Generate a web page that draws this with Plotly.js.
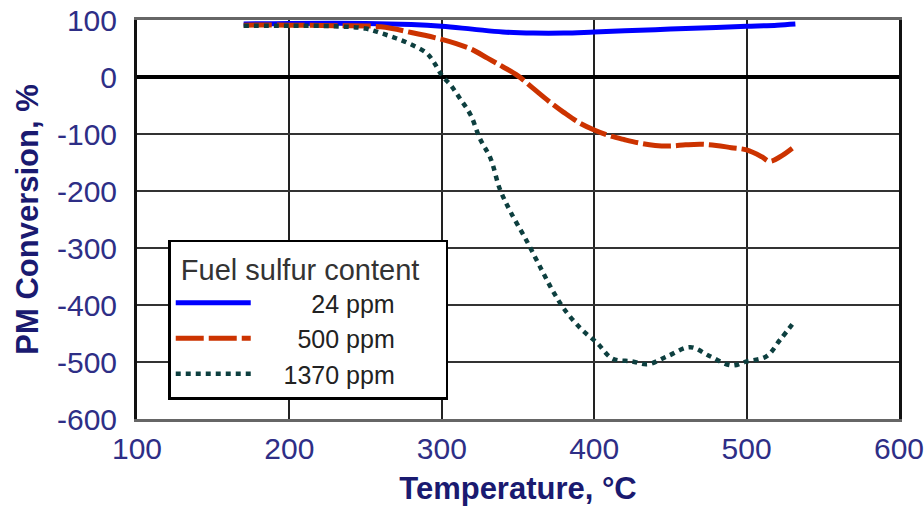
<!DOCTYPE html>
<html>
<head>
<meta charset="utf-8">
<script src="https://cdn.plot.ly/plotly-3.0.1.min.js"></script>
<style>
html,body{margin:0;padding:0;background:#fff;}
#chart{width:924px;height:515px;}
</style>
</head>
<body>
<div id="chart"></div>
<script>
// Data
var seriesNames = ["\u00a0\u00a0\u00a0\u00a0\u00a0\u00a0\u00a0\u00a024 ppm", "\u00a0\u00a0\u00a0\u00a0\u00a0\u00a0500 ppm", "\u00a0\u00a0\u00a0\u00a01370 ppm"];
var legendTitle = "Fuel sulfur content";

var temp24 = [170, 200, 250, 280, 300, 320, 340, 360, 380, 400, 420, 440, 460, 480, 500, 520, 532];
var conv24 = [93, 94, 94, 92, 89, 84, 79, 77, 77, 79, 81, 83, 85, 87, 89, 91, 93];

var temp500 = [170, 200, 230, 260, 280, 300, 310, 320, 330, 340, 350, 360, 370, 380, 390, 400, 410, 420, 430, 440, 450, 460, 470, 480, 490, 500, 510, 515, 522, 530];
var conv500 = [91, 91, 90, 88, 78, 66, 58, 48, 33, 18, 2, -20, -42, -62, -80, -93, -103, -110, -116, -120, -121, -119, -118, -120, -124, -128, -140, -148, -140, -125];

var temp1370 = [170, 200, 230, 250, 260, 270, 280, 290, 295, 300, 306, 312, 319, 325, 332, 338, 345, 356, 366, 373, 380, 391, 402, 412, 425, 435, 448, 463, 476, 490, 500, 513, 522, 532];
var conv1370 = [90, 90, 89, 85, 77, 68, 57, 42, 25, 3, -15, -38, -67, -108, -143, -196, -236, -289, -341, -376, -406, -441, -467, -494, -499, -504, -490, -474, -490, -506, -499, -490, -461, -427];

var xTicks = [100, 200, 300, 400, 500, 600];
var yTicks = [100, 0, -100, -200, -300, -400, -500, -600];

var traces = [
  {x: temp24, y: conv24, name: seriesNames[0], mode: "lines",
   line: {color: "#0000ff", width: 5, shape: "spline"}},
  {x: temp500, y: conv500, name: seriesNames[1], mode: "lines",
   line: {color: "#cc3300", width: 5, dash: "28px,5px", shape: "spline"}},
  {x: temp1370, y: conv1370, name: seriesNames[2], mode: "lines",
   line: {color: "#0d3f3f", width: 4.5, dash: "5px,5px", shape: "spline"}}
];

var tickFont = {family: "Liberation Sans, Arial, sans-serif", size: 30, color: "#2e2e86"};
var titleFont = {family: "Liberation Sans, Arial, sans-serif", size: 31, color: "#1a1a70", weight: "bold"};

var layout = {
  width: 924, height: 515,
  margin: {l: 137, r: 25, t: 20, b: 96},
  paper_bgcolor: "#ffffff",
  plot_bgcolor: "#ffffff",
  showlegend: true,
  legend: {
    x: 0.041, y: 0.449, xanchor: "left", yanchor: "top",
    bgcolor: "#ffffff", bordercolor: "#000000", borderwidth: 2.5,
    font: {family: "Liberation Sans, Arial, sans-serif", size: 25, color: "#222222"},
    title: {text: "\u00a0" + legendTitle + "\u00a0\u00a0\u00a0", font: {family: "Liberation Sans, Arial, sans-serif", size: 29, color: "#333333"}},
    itemwidth: 75,
    tracegroupgap: 0
  },
  xaxis: {
    range: [100, 600], tickvals: xTicks, ticktext: xTicks.map(String),
    showgrid: true, gridcolor: "#222222", gridwidth: 2,
    showline: true, linecolor: "#666666", linewidth: 3, mirror: true,
    zeroline: false, ticks: "", tickfont: tickFont, ticklabelstandoff: 1,
    ticklabeloverflow: "allow",
    title: {text: "Temperature, \u00b0C", font: titleFont, standoff: 14},
    fixedrange: true
  },
  yaxis: {
    range: [-600, 100], tickvals: yTicks, ticktext: yTicks.map(String),
    showgrid: true, gridcolor: "#333333", gridwidth: 2.5,
    showline: true, linecolor: "#111111", linewidth: 3, mirror: true,
    zeroline: true, zerolinecolor: "#000000", zerolinewidth: 4,
    ticks: "", tickfont: tickFont, ticklabelstandoff: 11,
    ticklabeloverflow: "allow",
    title: {text: "PM Conversion, %", font: titleFont, standoff: 10},
    fixedrange: true
  }
};

Plotly.newPlot("chart", traces, layout, {staticPlot: true, displayModeBar: false});
</script>
</body>
</html>
